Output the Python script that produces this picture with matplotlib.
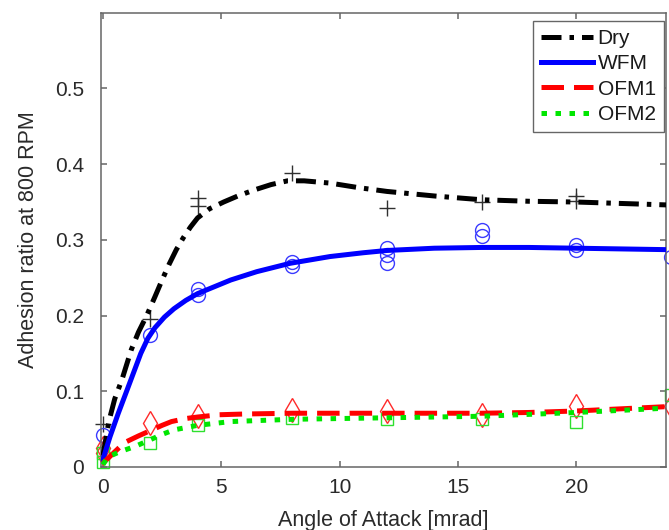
import numpy as np
import matplotlib
matplotlib.use('Agg')
import matplotlib.pyplot as plt

plt.rcParams['font.family'] = ['Liberation Sans', 'DejaVu Sans']

# measured points (several runs per angle)
dry_x = [0, 2, 4, 4, 8, 12, 16, 20, 20]
dry_y = [0.057, 0.196, 0.355, 0.345, 0.388, 0.342, 0.350, 0.358, 0.352]
wfm_x = [0, 2, 4, 4, 8, 8, 12, 12, 12, 16, 16, 20, 20, 24]
wfm_y = [0.042, 0.174, 0.235, 0.227, 0.271, 0.266, 0.289, 0.280, 0.269, 0.313, 0.305, 0.293, 0.287, 0.277]
ofm1_x = [0, 0, 2, 4, 8, 12, 16, 20, 24]
ofm1_y = [0.025, 0.018, 0.058, 0.068, 0.075, 0.074, 0.069, 0.080, 0.080]
ofm2_x = [0, 0, 2, 4, 8, 12, 16, 20, 24]
ofm2_y = [0.018, 0.006, 0.032, 0.056, 0.065, 0.064, 0.064, 0.060, 0.095]

# fitted curves
dry_fit_x = [0, 0.25, 0.5, 0.8, 1.2, 1.5, 1.85, 2.2, 2.5, 2.8, 3.1, 3.4, 3.7, 4.0, 4.5, 5.1, 5.7, 6.4,
             7.1, 7.8, 8.5, 9.6, 10.8, 12, 14, 16, 18, 20, 22, 24]
dry_fit_y = [0.015, 0.06, 0.09, 0.115, 0.155, 0.178, 0.200, 0.225, 0.247, 0.268, 0.287, 0.303, 0.317, 0.329,
             0.341, 0.350, 0.358, 0.366, 0.373, 0.378, 0.378, 0.375, 0.369, 0.364, 0.358, 0.353, 0.351,
             0.350, 0.348, 0.346]
wfm_fit_x = [0, 0.3, 0.65, 1.0, 1.3, 1.6, 1.9, 2.2, 2.6, 3.0, 3.5, 4.0, 4.7, 5.4, 6.5, 7.9, 9.6, 11,
             12, 14, 16, 18, 20, 22, 24]
wfm_fit_y = [0.01, 0.04, 0.071, 0.100, 0.125, 0.150, 0.170, 0.184, 0.198, 0.209, 0.220, 0.229, 0.238,
             0.247, 0.258, 0.269, 0.278, 0.283, 0.286, 0.289, 0.290, 0.290, 0.289, 0.288, 0.287]
ofm1_fit_x = [0, 0.5, 0.9, 1.5, 2, 2.5, 2.9, 3.5, 4, 4.9, 6, 8, 12, 16, 18, 20, 22, 24]
ofm1_fit_y = [0.005, 0.020, 0.032, 0.041, 0.048, 0.055, 0.060, 0.064, 0.066, 0.069, 0.070, 0.071, 0.071,
              0.071, 0.072, 0.074, 0.077, 0.080]
ofm2_fit_x = [0, 0.2, 0.7, 1.35, 2, 2.5, 3.0, 4, 5.4, 8, 12, 16, 20, 24]
ofm2_fit_y = [0.003, 0.013, 0.020, 0.027, 0.036, 0.043, 0.049, 0.055, 0.060, 0.063, 0.065, 0.067, 0.072, 0.078]

x_ticks = [0, 5, 10, 15, 20]
y_ticks = [0, 0.1, 0.2, 0.3, 0.4, 0.5]
y_tick_labels = ['0', '0.1', '0.2', '0.3', '0.4', '0.5']

fig = plt.figure(figsize=(6.69, 5.30), dpi=100)
ax = fig.add_axes([0.151, 0.1189, 0.8445, 0.857])

# markers first, fitted lines on top
ax.plot(dry_x, dry_y, ls='none', marker='+', ms=12, mew=1.0, color='#303030', clip_on=False, zorder=2)
ax.plot(wfm_x, wfm_y, ls='none', marker='o', ms=10, mew=1.0, mfc='none', mec='#3b3bff', clip_on=False, zorder=2)
ax.plot(ofm1_x, ofm1_y, ls='none', marker='d', ms=12, mew=1.0, mfc='none', mec='#ff2a2a', clip_on=False, zorder=2)
ax.plot(ofm2_x, ofm2_y, ls='none', marker='s', ms=9, mew=1.0, mfc='none', mec='#2ee02e', clip_on=False, zorder=2)

lw = 3.6
ax.plot(dry_fit_x, dry_fit_y, color='black', lw=lw, dashes=(4, 1.6, 0.9, 1.6), dash_capstyle='butt',
        solid_joinstyle='round', label='Dry', zorder=3)
ax.plot(wfm_fit_x, wfm_fit_y, color='#0000ff', lw=lw, solid_joinstyle='round', label='WFM', zorder=3)
ax.plot(ofm1_fit_x, ofm1_fit_y, color='#ff0000', lw=lw, dashes=(4.5, 2), dash_capstyle='butt', label='OFM1', zorder=3)
ax.plot(ofm2_fit_x, ofm2_fit_y, color='#00e600', lw=lw, dashes=(1.1, 1.7), dash_capstyle='butt', label='OFM2', zorder=4)

ax.set_xlim(-0.08, 23.79)
ax.set_ylim(0, 0.6)
ax.set_xticks(x_ticks)
ax.set_yticks(y_ticks)
ax.set_yticklabels(y_tick_labels)

for s in ax.spines.values():
    s.set_color('#666666')
    s.set_linewidth(1.1)
ax.tick_params(direction='in', length=4, width=1.1, color='#666666', labelsize=15,
               labelcolor='#2a2a2a', top=True, right=True)
ax.tick_params(axis='y', pad=12)
ax.tick_params(axis='x', pad=8)

ax.set_xlabel('Angle of Attack [mrad]', fontsize=15.5, color='#2a2a2a', labelpad=9)
ax.set_ylabel('Adhesion ratio at 800 RPM', fontsize=15.5, color='#2a2a2a', labelpad=12)

leg = ax.legend(loc='upper right', bbox_to_anchor=(0.9965, 0.9824), borderaxespad=0,
                fontsize=15, handlelength=2.5, handletextpad=0.2, labelspacing=0.3,
                borderpad=0.4, fancybox=False, framealpha=1, edgecolor='#666666')
leg.get_frame().set_linewidth(1.0)
for t in leg.get_texts():
    t.set_color('#1a1a1a')

fig.savefig('out.png', dpi=100)
